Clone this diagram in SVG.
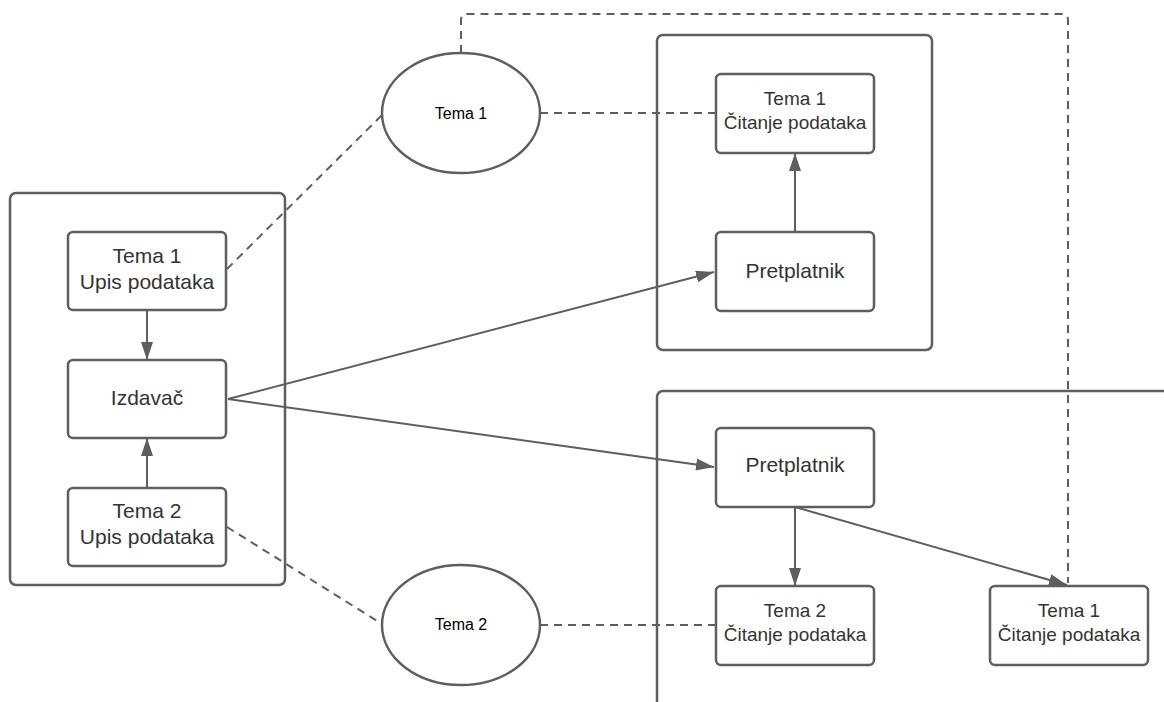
<svg xmlns="http://www.w3.org/2000/svg" width="1164" height="702" viewBox="0 0 1164 702">
<style>
.c{fill:#fff;stroke:#5e5e5e;stroke-width:2.5}
.b{fill:#fff;stroke:#5e5e5e;stroke-width:2.5}
.t{font-family:"Liberation Sans",Arial,sans-serif;font-size:21px;fill:#333;text-anchor:middle}
.s{font-family:"Liberation Sans",Arial,sans-serif;font-size:19px;fill:#333;text-anchor:middle}
.e{font-family:"Liberation Sans",Arial,sans-serif;font-size:16px;fill:#000;text-anchor:middle}
.l{fill:none;stroke:#5e5e5e;stroke-width:2}
.d{fill:none;stroke:#5e5e5e;stroke-width:2;stroke-dasharray:8 6}
</style>
<defs>
<marker id="a" viewBox="0 0 18 12" refX="18" refY="6" markerWidth="18" markerHeight="12" markerUnits="userSpaceOnUse" orient="auto">
<path d="M0,0 L18,6 L0,12 Z" fill="#5e5e5e"/>
</marker>
</defs>
<rect width="1164" height="702" fill="#fff"/>
<g id="container-left"><rect class="c" x="10" y="193" width="275" height="392" rx="6"/></g>
<g id="container-top-right"><rect class="c" x="657" y="35" width="275" height="315" rx="6"/></g>
<g id="container-bottom-right"><rect class="c" x="657" y="391" width="620" height="400" rx="6"/></g>
<g id="connectors">
<path class="d" d="M461,53 V20 Q461,14 467,14 H1062 Q1068,14 1068,20 V583"/>
<line class="d" x1="227" y1="269" x2="382" y2="115"/>
<line class="d" x1="227" y1="527" x2="382" y2="624"/>
<line class="d" x1="540" y1="113" x2="716" y2="113"/>
<line class="d" x1="540" y1="625" x2="716" y2="625"/>
<line class="l" x1="147" y1="310" x2="147" y2="360" marker-end="url(#a)"/>
<line class="l" x1="147" y1="488" x2="147" y2="438" marker-end="url(#a)"/>
<line class="l" x1="228" y1="399" x2="714" y2="272" marker-end="url(#a)"/>
<line class="l" x1="228" y1="399" x2="714" y2="467" marker-end="url(#a)"/>
<line class="l" x1="795" y1="232" x2="795" y2="153" marker-end="url(#a)"/>
<line class="l" x1="795" y1="507" x2="795" y2="586" marker-end="url(#a)"/>
<line class="l" x1="795" y1="507" x2="1067" y2="585" marker-end="url(#a)"/>
</g>
<g id="tema1-upis"><rect class="b" x="68" y="232" width="158" height="78" rx="5"/><text class="t" x="147" y="263">Tema 1</text><text class="t" x="147" y="289">Upis podataka</text></g>
<g id="izdavac"><rect class="b" x="68" y="360" width="158" height="78" rx="5"/><text class="t" x="147" y="405">Izdavač</text></g>
<g id="tema2-upis"><rect class="b" x="68" y="488" width="158" height="78" rx="5"/><text class="t" x="147" y="518">Tema 2</text><text class="t" x="147" y="544">Upis podataka</text></g>
<g id="ellipse-tema1"><ellipse class="b" cx="461" cy="113" rx="79" ry="60"/><text class="e" x="461" y="119">Tema 1</text></g>
<g id="ellipse-tema2"><ellipse class="b" cx="461" cy="625" rx="79" ry="60"/><text class="e" x="461" y="630">Tema 2</text></g>
<g id="tema1-citanje-top"><rect class="b" x="716" y="74" width="158" height="79" rx="5"/><text class="s" x="795" y="105">Tema 1</text><text class="s" x="795" y="129">Čitanje podataka</text></g>
<g id="pretplatnik-top"><rect class="b" x="716" y="232" width="158" height="79" rx="5"/><text class="t" x="795" y="278">Pretplatnik</text></g>
<g id="pretplatnik-bottom"><rect class="b" x="716" y="428" width="158" height="79" rx="5"/><text class="t" x="795" y="472">Pretplatnik</text></g>
<g id="tema2-citanje"><rect class="b" x="716" y="586" width="158" height="79" rx="5"/><text class="s" x="795" y="617">Tema 2</text><text class="s" x="795" y="641">Čitanje podataka</text></g>
<g id="tema1-citanje-bottom"><rect class="b" x="990" y="586" width="158" height="79" rx="5"/><text class="s" x="1069" y="617">Tema 1</text><text class="s" x="1069" y="641">Čitanje podataka</text></g>
</svg>
